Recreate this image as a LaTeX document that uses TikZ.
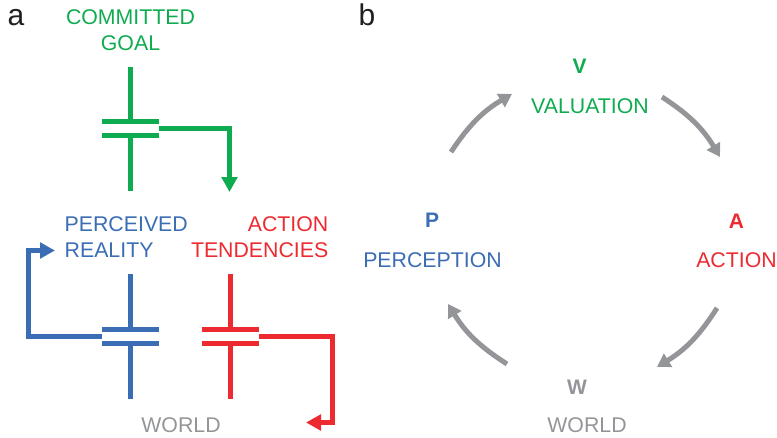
\documentclass[tikz,border=0pt]{standalone}
\usepackage{fontspec}
\setmainfont{Liberation Sans}
\usetikzlibrary{arrows.meta}
\definecolor{goalgreen}{HTML}{0FAB50}
\definecolor{percblue}{HTML}{3B6DB5}
\definecolor{actred}{HTML}{ED2A30}
\definecolor{worldgray}{HTML}{939598}
\definecolor{panelblack}{HTML}{231F20}
\tikzset{
    lbl/.style={inner sep=0pt, font=\fontsize{21.3}{25.5}\selectfont},
    letter/.style={inner sep=0pt, font=\fontsize{21}{24}\selectfont\bfseries},
    panel/.style={inner sep=0pt, text=panelblack, font=\fontsize{30}{36}\selectfont},
    wire/.style={line width=5pt},
    loopwire/.style={line width=5pt, -{Triangle[length=15pt, width=15.5pt]}},
    cyclearc/.style={line width=5pt, worldgray, -{Triangle[length=13pt, width=15pt]}}
}

\begin{document}
\begin{tikzpicture}[x=1pt, y=-1pt]
    \useasboundingbox (0, 0) rectangle (777, 437);
    % --- left: panel a ---
    \node[panel] (panelA) at (16, 18) {a};
    \node[lbl, text=goalgreen, align=center] (goal) at (130.5, 30) {COMMITTED\\GOAL};
    \node[lbl, text=percblue, align=left, anchor=west] (reality) at (64.5, 237) {PERCEIVED\\REALITY};
    \node[lbl, text=actred, align=right, anchor=east] (tendencies) at (328.5, 237) {ACTION\\TENDENCIES};
    \node[lbl, text=worldgray] (worldA) at (181, 425) {WORLD};
    % the three gates: stem, two bars, stem
    \foreach \name/\cx/\top/\bottom/\col in {G/130.5/67/191/goalgreen, P/130.5/274/398.5/percblue, R/230.5/274/398.5/actred} {
        \pgfmathsetmacro{\cy}{\top < 100 ? 128.5 : 336}
        \coordinate (\name top) at (\cx, \top);
        \coordinate (\name bot) at (\cx, \bottom);
        \coordinate (\name left) at (\cx-28.5, \cy);
        \coordinate (\name right) at (\cx+28.5, \cy);
        \coordinate (\name in) at (\cx, \cy-7);
        \coordinate (\name out) at (\cx, \cy+7);
        \draw[wire, \col] (\name top) -- (\name in);
        \draw[wire, \col] (\name bot) -- (\name out);
        \draw[wire, \col] (\cx-28.5, \cy-7) -- (\cx+28.5, \cy-7);
        \draw[wire, \col] (\cx-28.5, \cy+7) -- (\cx+28.5, \cy+7);
    }
    % feedback arrows
    \coordinate (Gend) at (229.5, 192);
    \coordinate (Pend) at (55, 250.5);
    \coordinate (Rend) at (306, 422.5);
    \draw[loopwire, goalgreen] (Gright) -| (Gend);
    \draw[loopwire, percblue] (Pleft) -| (28.3, 250.5) -- (Pend);
    \draw[loopwire, actred] (Rright) -| (332.5, 422.5) -- (Rend);
    % --- right: panel b ---
    \node[panel] (panelB) at (367, 15) {b};
    \node[letter, text=goalgreen] (v) at (579.5, 66) {V};
    \node[lbl, text=goalgreen] (valuation) at (590, 106) {VALUATION};
    \node[letter, text=actred] (a) at (736.5, 221) {A};
    \node[lbl, text=actred] (action) at (736.5, 260) {ACTION};
    \node[letter, text=worldgray] (w) at (577, 387) {W};
    \node[lbl, text=worldgray] (world) at (587, 425) {WORLD};
    \node[letter, text=percblue] (p) at (432, 220) {P};
    \node[lbl, text=percblue] (perception) at (432.5, 260) {PERCEPTION};
    % ends of the cycle arrows
    \coordinate (pa) at (451, 152);
    \coordinate (pb) at (512, 94);
    \coordinate (va) at (662, 97);
    \coordinate (vb) at (720, 157);
    \coordinate (aa) at (717, 308);
    \coordinate (ab) at (657, 367);
    \coordinate (wa) at (507, 364);
    \coordinate (wb) at (448, 304);
    \draw[cyclearc] (pa) to[bend left=13] (pb);
    \draw[cyclearc] (va) to[bend left=13] (vb);
    \draw[cyclearc] (aa) to[bend left=13] (ab);
    \draw[cyclearc] (wa) to[bend left=13] (wb);
\end{tikzpicture}
\end{document}
